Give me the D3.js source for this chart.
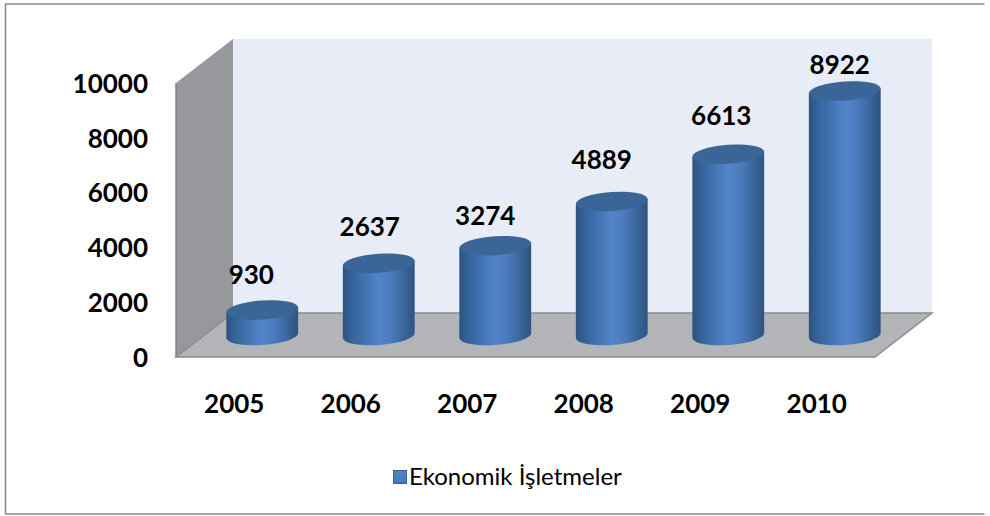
<!DOCTYPE html>
<html>
<head>
<meta charset="utf-8">
<script src="https://cdn.jsdelivr.net/npm/d3@7"></script>
<style>
  html, body { margin: 0; padding: 0; background: #fff; }
  text { font-family: Lato, "Open Sans", sans-serif; fill: #000; }
</style>
</head>
<body>
<div id="plot"></div>
<script>
const years = ["2005", "2006", "2007", "2008", "2009", "2010"];
const values = [930, 2637, 3274, 4889, 6613, 8922];
const yTicks = [0, 2000, 4000, 6000, 8000, 10000];
const seriesName = "Ekonomik İşletmeler";

// labels don't sit at a constant distance from the bars in the original
const labelNudge = [[-11, -35], [-9, -36], [-10, -30], [-10, -42], [-7, -38], [-5, -26]];

const width = 990, height = 516;
const front = { left: 176, right: 875, top: 83, bottom: 357 };
const depth = { x: 57, y: -44 };
const barShift = { x: 28, y: -21.5 }; // cylinders stand mid way in the floor
const rx = 36, ry = 9.5, tilt = -4;

const svg = d3.select("#plot").append("svg")
    .attr("width", width)
    .attr("height", height);

const x = d3.scaleBand().domain(years).range([front.left, front.right]);
const y = d3.scaleLinear().domain([0, 10000]).range([front.bottom, front.top]);

// gradient for the round side of the cylinders
const defs = svg.append("defs");
const grad = defs.append("linearGradient").attr("id", "side");
[["0%", "#2c5381"], ["14%", "#36659c"], ["50%", "#5185cb"], ["68%", "#4a7abb"], ["90%", "#355f92"], ["100%", "#2e5480"]]
    .forEach(s => grad.append("stop").attr("offset", s[0]).attr("stop-color", s[1]));

const legendGrad = defs.append("linearGradient").attr("id", "legendFill").attr("x2", 0).attr("y2", 1);
legendGrad.append("stop").attr("offset", "0%").attr("stop-color", "#4f81c4");
legendGrad.append("stop").attr("offset", "100%").attr("stop-color", "#4a78b6");

// outer frame, open on the right side like the original
svg.append("path")
    .attr("d", "M984.5,4H5.5V514H984.5")
    .attr("fill", "none")
    .attr("stroke", "#8c8c8c")
    .attr("stroke-width", 1.6);

// back wall
svg.append("path")
    .attr("d", d3.line()([
        [front.left + depth.x, y(10000) + depth.y],
        [front.right + depth.x, y(10000) + depth.y],
        [front.right + depth.x, y(0) + depth.y],
        [front.left + depth.x, y(0) + depth.y]]) + "Z")
    .attr("fill", "#e8ecf6");

// left wall
svg.append("path")
    .attr("d", d3.line()([
        [front.left, y(10000)],
        [front.left + depth.x, y(10000) + depth.y],
        [front.left + depth.x, y(0) + depth.y],
        [front.left, y(0)]]) + "Z")
    .attr("fill", "#96989b");

svg.append("line")
    .attr("x1", front.left).attr("x2", front.left)
    .attr("y1", y(10000)).attr("y2", y(0))
    .attr("stroke", "#7f8183")
    .attr("stroke-width", 1.5);

// floor
svg.append("path")
    .attr("d", d3.line()([
        [front.left, y(0)],
        [front.left + depth.x, y(0) + depth.y],
        [front.right + depth.x, y(0) + depth.y],
        [front.right, y(0)]]) + "Z")
    .attr("fill", "#b2b4b7")
    .attr("stroke", "#8a8b8d")
    .attr("stroke-width", 1.5);

// cylinders
const dx = rx * Math.cos(tilt * Math.PI / 180);
const dy = rx * Math.sin(tilt * Math.PI / 180);

const bars = svg.append("g").selectAll("g")
    .data(years)
    .enter()
    .append("g")
    .attr("transform", d => "translate(" + (x(d) + x.bandwidth() / 2 + barShift.x) + ",0)");

bars.append("path")
    .attr("fill", "url(#side)")
    .attr("d", (d, i) => {
        const top = y(values[i]) + barShift.y;
        const base = y(0) + barShift.y;
        return `M${-dx},${top - dy}L${-dx},${base - dy}` +
            `A${rx},${ry} ${tilt} 0 0 ${dx},${base + dy}` +
            `L${dx},${top + dy}Z`;
    });

bars.append("ellipse")
    .attr("rx", rx)
    .attr("ry", ry)
    .attr("fill", "#3a6597")
    .attr("transform", (d, i) => `translate(0,${y(values[i]) + barShift.y}) rotate(${tilt})`);

// value labels
svg.append("g").selectAll("text")
    .data(years)
    .enter()
    .append("text")
    .attr("text-anchor", "middle")
    .attr("font-size", 26)
    .attr("font-weight", "bold")
    .attr("dy", "0.35em")
    .attr("x", (d, i) => x(d) + x.bandwidth() / 2 + barShift.x + labelNudge[i][0])
    .attr("y", (d, i) => y(values[i]) + barShift.y + labelNudge[i][1])
    .text((d, i) => values[i]);

// axes, labels only
const yAxis = svg.append("g")
    .attr("transform", "translate(" + front.left + ",1)")
    .call(d3.axisLeft(y).tickValues(yTicks).tickSize(0).tickPadding(28).tickFormat(d3.format("d")));
yAxis.select(".domain").remove();
yAxis.selectAll("text")
    .attr("font-size", 26)
    .attr("font-weight", "bold")
    .style("font-family", "Lato")
    .style("fill", "#000");

const xAxis = svg.append("g")
    .attr("transform", "translate(0,395)")
    .call(d3.axisBottom(x).tickSize(0).tickPadding(0));
xAxis.select(".domain").remove();
xAxis.selectAll("text")
    .attr("font-size", 26)
    .attr("font-weight", "bold")
    .style("font-family", "Lato")
    .style("fill", "#000");

// legend
svg.append("rect")
    .attr("x", 393.5).attr("y", 470.5)
    .attr("width", 13).attr("height", 13)
    .attr("fill", "url(#legendFill)")
    .attr("stroke", "#3d618f")
    .attr("stroke-width", 1);

svg.append("text")
    .attr("x", 409)
    .attr("y", 485)
    .attr("font-size", 24)
    .text(seriesName);
</script>
</body>
</html>
